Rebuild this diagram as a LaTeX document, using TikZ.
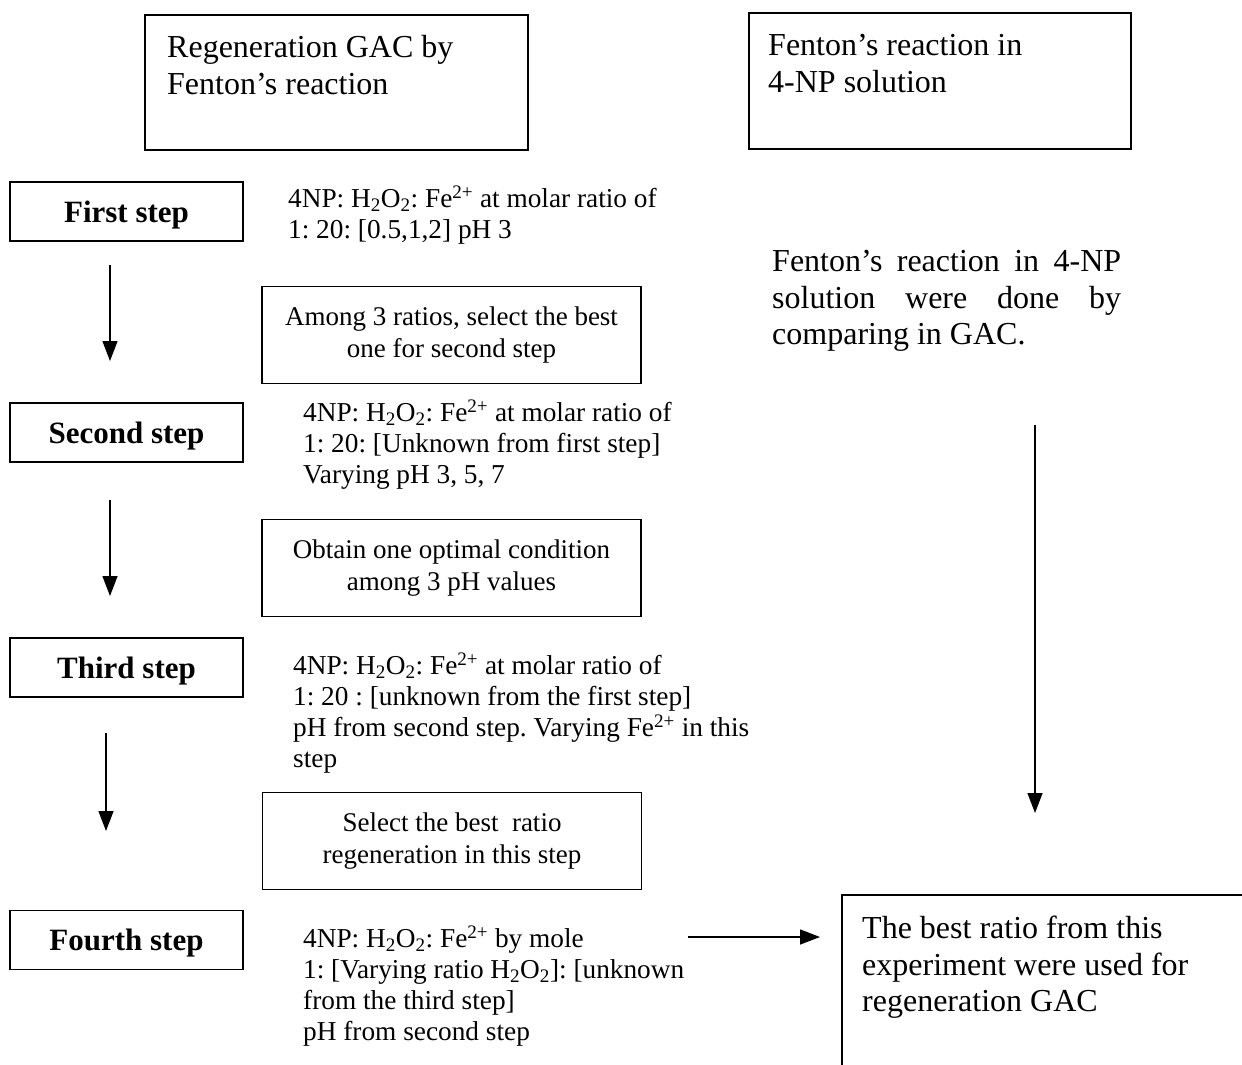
\documentclass[tikz,border=0pt]{standalone}
\usepackage{fontspec}
\setmainfont{Liberation Serif}
\usetikzlibrary{arrows.meta}
\newcommand{\mystrut}{\rule{0pt}{0.75em}}
\frenchspacing
\begin{document}
\begin{tikzpicture}[x=1pt,y=-1pt,
  frame/.style={draw, line width=1.3pt, inner sep=0pt},
  stepbox/.style={frame, minimum width=233pt, minimum height=59pt, text depth=0pt, font=\fontsize{31}{36}\selectfont\bfseries},
  resultbox/.style={frame, minimum width=379pt, minimum height=97pt, align=center, font=\fontsize{27}{32}\selectfont},
  note/.style={anchor=north west, inner sep=0pt, align=left, font=\fontsize{27.3}{31.2}\selectfont},
  big/.style={anchor=north west, inner sep=0pt, align=left, font=\fontsize{32}{36.5}\selectfont},
  flow/.style={line width=1.4pt, -{Triangle[length=20pt,width=15pt]}}
]
\clip (0,0) rectangle (1242,1065);
\fill[white] (0,0) rectangle (1242,1065);

% header boxes
\node[frame, minimum width=383pt, minimum height=135pt] (hA) at (336.5,82.5) {};
\node[big] (tA) at (167,33.6) {\mystrut Regeneration GAC by\\Fenton’s reaction};
\node[frame, minimum width=382pt, minimum height=136pt] (hB) at (940,81) {};
\node[big] (tB) at (768,31.6) {\mystrut Fenton’s reaction in\\4-NP solution};

% step boxes
\node[stepbox] (s1) at (126.5,211.5) {First step};
\node[stepbox] (s2) at (126.5,432.5) {Second step};
\node[stepbox] (s3) at (126.5,667.5) {Third step};
\node[stepbox] (s4) at (126.5,940) {Fourth step};

% notes
\node[note] (n1) at (288,185.2) {\mystrut 4NP: H\textsubscript{2}O\textsubscript{2}: Fe\textsuperscript{2+} at molar ratio of\\1: 20: [0.5,1,2] pH 3};
\node[note] (n2) at (303,399.2) {\mystrut 4NP: H\textsubscript{2}O\textsubscript{2}: Fe\textsuperscript{2+} at molar ratio of\\1: 20: [Unknown from first step]\\Varying pH 3, 5, 7};
\node[note] (n3) at (293,652.2) {\mystrut 4NP: H\textsubscript{2}O\textsubscript{2}: Fe\textsuperscript{2+} at molar ratio of\\1: 20 : [unknown from the first step]\\pH from second step. Varying Fe\textsuperscript{2+} in this\\step};
\node[note] (n4) at (303,925.2) {\mystrut 4NP: H\textsubscript{2}O\textsubscript{2}: Fe\textsuperscript{2+} by mole\\1: [Varying ratio H\textsubscript{2}O\textsubscript{2}]: [unknown\\from the third step]\\pH from second step};

% result boxes
\node[resultbox] (r1) at (451.5,335) {Among 3 ratios, select the best\\one for second step};
\node[resultbox] (r2) at (451.5,568) {Obtain one optimal condition\\among 3 pH values};
\node[resultbox] (r3) at (452,841) {Select the best~ ratio\\regeneration in this step};

% right column
\node[big] (rt) at (772,247.6) {\mystrut\makebox[349pt][s]{Fenton’s reaction in 4-NP}\\\makebox[349pt][s]{solution were done by}\\comparing in GAC.};
\node[frame, minimum width=420pt, minimum height=200pt] (fin) at (1052,995) {};
\node[big] (ft) at (862,914.6) {\mystrut The best ratio from this\\experiment were used for\\regeneration GAC};

% arrows
\coordinate (a1s) at (110,265); \coordinate (a1e) at (110,361);
\coordinate (a2s) at (110,500); \coordinate (a2e) at (110,596);
\coordinate (a3s) at (106,733); \coordinate (a3e) at (106,831);
\coordinate (a4s) at (1035,425); \coordinate (a4e) at (1035,813);
\coordinate (a5s) at (688,937); \coordinate (a5e) at (820,937);
\draw[flow] (a1s) -- (a1e);
\draw[flow] (a2s) -- (a2e);
\draw[flow] (a3s) -- (a3e);
\draw[flow] (a4s) -- (a4e);
\draw[flow] (a5s) -- (a5e);
\end{tikzpicture}
\end{document}
